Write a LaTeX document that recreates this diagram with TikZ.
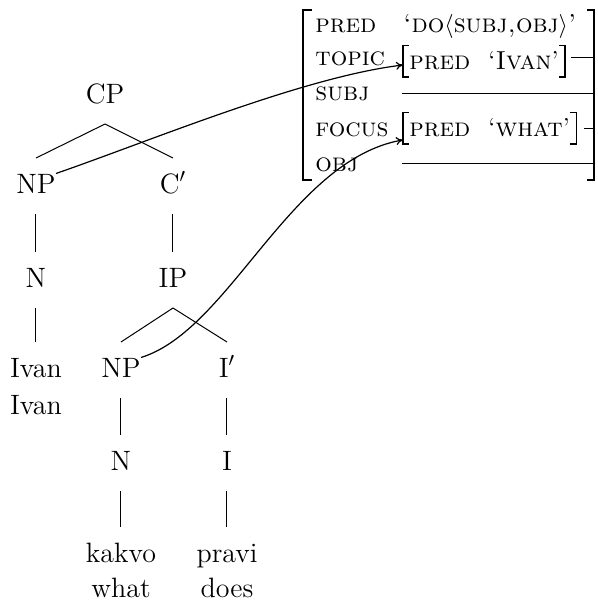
\documentclass[tikz,border=0pt]{standalone}
\usetikzlibrary{arrows.meta}
\tikzset{
  lab/.style={font=\fontsize{14}{16}\selectfont, inner sep=0pt, anchor=base},
  att/.style={font=\fontsize{13}{15}\selectfont\scshape, inner sep=0pt, anchor=base west},
  inavm/.style={font=\fontsize{13}{15}\selectfont, inner xsep=3pt, inner ysep=0pt, minimum height=15.5pt, anchor=west},
  edge/.style={line width=0.5pt},
  link/.style={line width=0.6pt, -{To[length=3.5pt,width=4pt]}},
  brk/.style={line width=1.3pt},
  ibrk/.style={line width=0.6pt},
}
\begin{document}
\begin{tikzpicture}[x=0.5pt,y=-0.5pt]
\useasboundingbox (0,0) rectangle (598,602);
% tree
\node[lab] (cp) at (105,103) {CP};
\node[lab] (np1) at (36,193) {NP};
\node[lab] (c1) at (173,193) {C$'$};
\node[lab] (n1) at (36,287) {N};
\node[lab] (ip) at (173,287) {IP};
\node[lab] (ivan) at (36,377) {Ivan};
\node[lab] (ivang) at (36,414) {Ivan};
\node[lab] (np2) at (121,377) {NP};
\node[lab] (i1) at (227,377) {I$'$};
\node[lab] (n2) at (121,470) {N};
\node[lab] (i2) at (227,470) {I};
\node[lab] (kakvo) at (121,562) {kakvo};
\node[lab] (kakvog) at (121,597) {what};
\node[lab] (pravi) at (227,562) {pravi};
\node[lab] (pravig) at (227,597) {does};
\foreach \a/\b in {cp/np1,cp/c1,np1/n1,c1/ip,n1/ivan,ip/np2,ip/i1,np2/n2,i1/i2,n2/kakvo,i2/pravi}
  \draw[edge] ([yshift=-10.5pt]\a.base) -- ([yshift=17.5pt]\b.base);
% AVM
\node[att] (pred) at (315,32) {pred};
\node[att] (topic) at (315,65) {topic};
\node[att] (subj) at (315,100) {subj};
\node[att] (focus) at (315,136) {focus};
\node[att] (obj) at (315,171) {obj};
\node[att] (predval) at (403,32) {‘do$\langle$subj,obj$\rangle$’};
\node[inavm] (ivanavm) at (403,61) {\textsc{pred}\hspace{0.7em}‘\textsc{Ivan}’};
\node[inavm] (whatavm) at (403,128) {\textsc{pred}\hspace{0.7em}‘\textsc{what}’};
\foreach \n in {ivanavm,whatavm}{
  \draw[ibrk] ([xshift=3pt]\n.north west) -- (\n.north west) -- (\n.south west) -- ([xshift=3pt]\n.south west);
  \draw[ibrk] ([xshift=-3pt]\n.north east) -- (\n.north east) -- (\n.south east) -- ([xshift=-3pt]\n.south east);
}
\draw[brk] (312,10) -- (303,10) -- (303,180) -- (312,180);
\draw[brk] (587,10) -- (594,10) -- (594,180) -- (587,180);
\coordinate (rb) at (595,0);
\coordinate (subjval) at (402,93);
\coordinate (objval) at (402,163);
\coordinate (ivanout) at ([shift={(3pt,2pt)}]ivanavm.east);
\coordinate (whatout) at ([xshift=4pt]whatavm.east);
\draw[edge] (ivanout) -- (ivanout -| rb) |- (subjval);
\draw[edge] (whatout) -- (whatout -| rb) |- (objval);
% links
\draw[link] (np1.north east) .. controls (150,141) and (303,77) .. ([yshift=-2pt]ivanavm.west);
\draw[link] (np2.north east) .. controls (230,330) and (290,160) .. ([yshift=2pt]whatavm.south west);
\end{tikzpicture}
\end{document}
